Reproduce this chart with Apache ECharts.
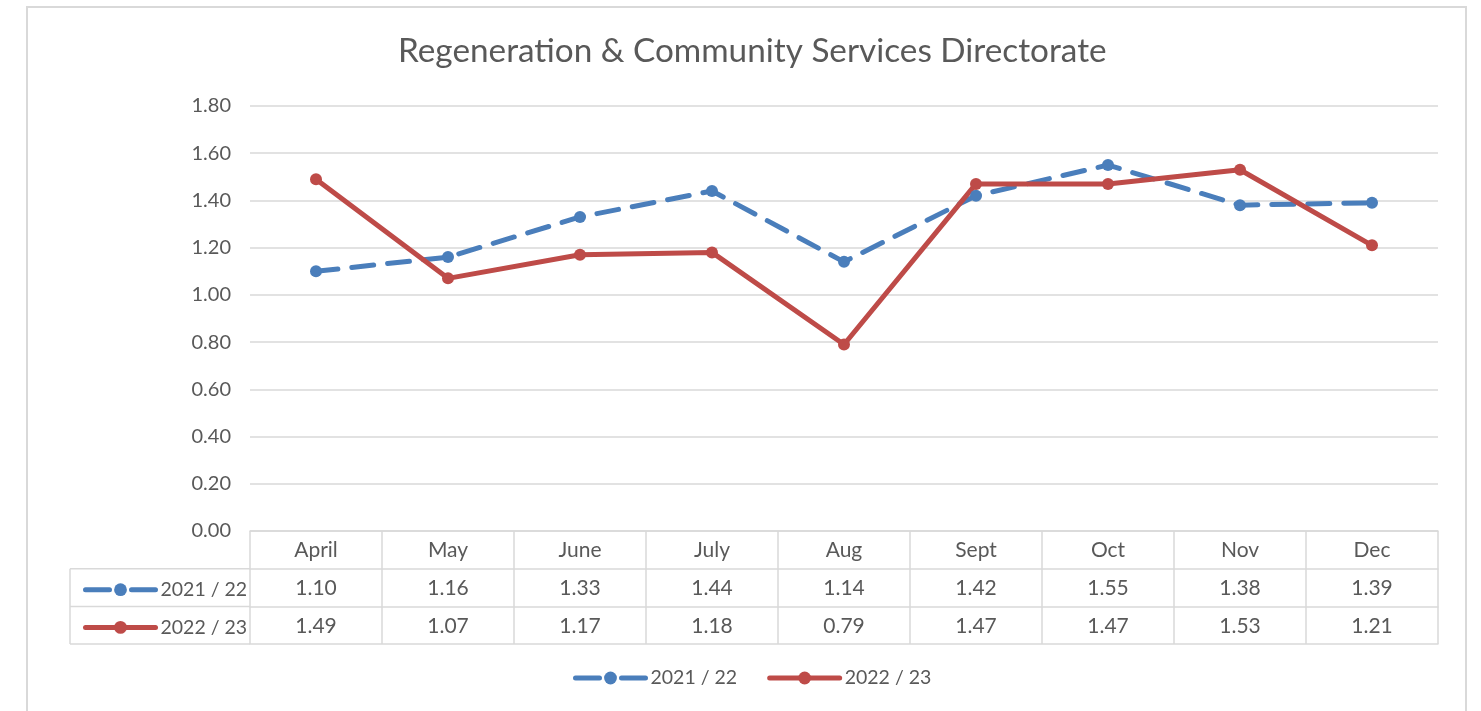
<!DOCTYPE html>
<html><head><meta charset="utf-8">
<script src="https://cdn.jsdelivr.net/npm/echarts@6/dist/echarts.min.js"></script>
<style>html,body{margin:0;padding:0;background:#fff}#c{width:1481px;height:711px}</style>
</head><body><div id="c"></div>
<script>
const title = 'Regeneration & Community Services Directorate';
const categories = ['April','May','June','July','Aug','Sept','Oct','Nov','Dec'];
const seriesNames = ['2021 / 22','2022 / 23'];
const values2122 = [1.10,1.16,1.33,1.44,1.14,1.42,1.55,1.38,1.39];
const values2223 = [1.49,1.07,1.17,1.18,0.79,1.47,1.47,1.53,1.21];
const yTicks = {min:0, max:1.8, interval:0.2};

const FONT = 'Lato';
const TXT = '#595959';
const LINE = '#d9d9d9';
const BLUE = '#4a7ebb';
const RED = '#be4b48';
const BLUE_DASH = [22,14];

const G = {left:250, right:43, top:106, bottom:180};
const W = 1481, H = 711;
const axisY = H - G.bottom;          // y of the 0 line
const rowH = 37.7;
const colLeft = 70;

const chart = echarts.init(document.getElementById('c'), null, {renderer:'canvas'});
const fmt = v => Number(v).toFixed(2);

function tableAxis(idx, labels, showLabels){
  return {
    type:'category', data: categories, gridIndex:0, position:'bottom',
    offset: rowH*idx,
    axisLine:{show:true, lineStyle:{color:LINE, width:1.5}},
    axisTick:{show: idx===0, length: rowH*3, lineStyle:{color:LINE, width:1.5}},
    axisLabel:{show: showLabels, margin: 9, color:TXT, fontFamily:FONT, fontSize:21,
      formatter: (v, i) => labels ? labels[i] : v},
    splitLine:{show:false}
  };
}

const legendItem = (i) => ({
  name: seriesNames[i],
  lineStyle: i === 0 ? {width:5, type:[24,22]} : {width:5}
});
const legendCommon = {itemWidth:70, itemHeight:16,
  lineStyle:{width:5},
  textStyle:{color:TXT, fontFamily:FONT, fontSize:19.5}};

const option = {
  backgroundColor:'#fff',
  animation:false,
  title:{text:title, left:393, top:30,
    textStyle:{color:TXT, fontFamily:FONT, fontSize:33.3, fontWeight:'normal'}},
  grid:G,
  legend:[
    Object.assign({data:[legendItem(0), legendItem(1)], bottom:18, left:568, itemGap:30}, legendCommon),
    Object.assign({data:[legendItem(0)], left:78, top:axisY+rowH+6}, legendCommon),
    Object.assign({data:[legendItem(1)], left:78, top:axisY+rowH*2+6}, legendCommon)
  ],
  xAxis:[
    tableAxis(0, null, true),
    tableAxis(1, values2122.map(fmt), true),
    tableAxis(2, values2223.map(fmt), true),
    tableAxis(3, null, false)
  ],
  yAxis:{type:'value', min:yTicks.min, max:yTicks.max, interval:yTicks.interval,
    axisLine:{show:false}, axisTick:{show:false},
    axisLabel:{color:TXT, fontFamily:FONT, fontSize:20, margin:19, formatter:fmt},
    splitLine:{lineStyle:{color:LINE, width:1.5}}},
  series:[
    {name:seriesNames[0], type:'line', data:values2122, xAxisIndex:0,
      symbol:'circle', symbolSize:12, color:BLUE,
      lineStyle:{width:5, type:BLUE_DASH, color:BLUE, cap:'round'},
      itemStyle:{color:BLUE}},
    {name:seriesNames[1], type:'line', data:values2223, xAxisIndex:0,
      symbol:'circle', symbolSize:12, color:RED,
      lineStyle:{width:5, color:RED, cap:'round'},
      itemStyle:{color:RED}}
  ],
  graphic:[
    {type:'rect', shape:{x:27, y:7, width:1439, height:720}, style:{fill:'none', stroke:'#d9d9d9', lineWidth:2}, silent:true},
    {type:'line', shape:{x1:colLeft, y1:axisY+rowH, x2:G.left, y2:axisY+rowH}, style:{stroke:LINE, lineWidth:1.5}},
    {type:'line', shape:{x1:colLeft, y1:axisY+rowH*2, x2:G.left, y2:axisY+rowH*2}, style:{stroke:LINE, lineWidth:1.5}},
    {type:'line', shape:{x1:colLeft, y1:axisY+rowH*3, x2:G.left, y2:axisY+rowH*3}, style:{stroke:LINE, lineWidth:1.5}},
    {type:'line', shape:{x1:colLeft, y1:axisY+rowH, x2:colLeft, y2:axisY+rowH*3}, style:{stroke:LINE, lineWidth:1.5}}
  ]
};
chart.setOption(option);
</script></body></html>
